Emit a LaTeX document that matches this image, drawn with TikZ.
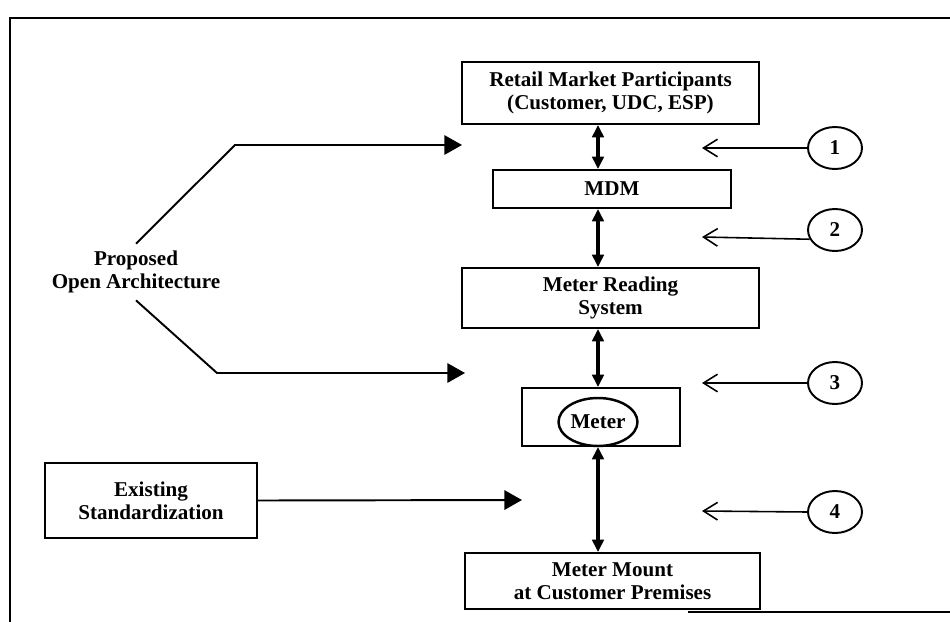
\documentclass[tikz,border=0pt]{standalone}
\usepackage{fontspec}
\setmainfont{Liberation Serif}
\usetikzlibrary{arrows.meta,positioning,shapes.geometric}

\tikzset{
  box/.style={draw, line width=1.1pt, align=center, inner sep=0pt,
    font=\bfseries\fontsize{12}{13}\selectfont},
  link/.style={line width=1.8pt, {Triangle[length=7pt,width=6.5pt]}-{Triangle[length=7pt,width=6.5pt]}},
  feed/.style={line width=1.1pt, -{Triangle[length=10pt,width=11pt]}},
  num/.style={draw, ellipse, line width=1.1pt, inner sep=0pt, minimum width=1.08cm,
    minimum height=0.84cm, font=\bfseries\fontsize{12}{13}\selectfont},
  pointer/.style={line width=0.9pt, -{Straight Barb[length=8pt,width=10pt]}}
}

\begin{document}
\begin{tikzpicture}[x=0.02cm,y=-0.02cm]
  \useasboundingbox (0,0) rectangle (950,622);
  % frame
  \draw[line width=1.3pt] (950,18) -- (10,18) -- (10,622);
  \draw[line width=1.5pt] (688,612) -- (950,612);

  % central column
  \node[box, minimum width=5.94cm, minimum height=1.24cm] (retail) at (610.5,93)
    {Retail Market Participants\\(Customer, UDC, ESP)};
  \node[box, minimum width=4.76cm, minimum height=0.76cm] (mdm) at (612,189) {MDM};
  \node[box, minimum width=5.94cm, minimum height=1.2cm] (mrs) at (610.5,298)
    {Meter Reading\\System};
  \node[box, minimum width=3.16cm, minimum height=1.16cm] (meterbox) at (601,417) {};
  \node[box, ellipse, line width=1.4pt, minimum width=1.58cm, minimum height=0.96cm] (meter) at (598,422) {Meter};
  \node[box, minimum width=5.9cm, minimum height=1.12cm] (mount) at (612.5,581)
    {Meter Mount\\at Customer Premises};

  \draw[link] (retail.south -| meter) -- (mdm.north -| meter);
  \draw[link] (mdm.south -| meter) -- (mrs.north -| meter);
  \draw[link] (mrs.south -| meter) -- (meterbox.north -| meter);
  \draw[link] (meterbox.south -| meter) -- (mount.north -| meter);

  % left side
  \node[align=center, inner sep=4pt, font=\bfseries\fontsize{12}{13}\selectfont] (arch) at (136,272)
    {Proposed\\Open Architecture};
  \node[box, minimum width=4.24cm, minimum height=1.5cm] (std) at (151,500.5)
    {Existing\\Standardization};
  \coordinate (tipA) at (462,145);
  \coordinate (tipB) at (465,373);
  \coordinate (tipC) at (522,500);
  \draw[feed] (arch.north) -- (235,145) -- (tipA);
  \draw[feed] (arch.south) -- (217,373) -- (tipB);
  \draw[feed] (std.east) -- (tipC);

  % interface numbers
  \node[num] (c1) at (835,148) {1};
  \node[num] (c2) at (835,230) {2};
  \node[num] (c3) at (835,383) {3};
  \node[num] (c4) at (835,512) {4};
  \coordinate (p1) at (702,148);
  \coordinate (p2) at (702,237);
  \coordinate (p3) at (702,383);
  \coordinate (p4) at (702,511);
  \draw[pointer] (c1.west) -- (p1);
  \draw[pointer] (c2.200) -- (p2);
  \draw[pointer] (c3.west) -- (p3);
  \draw[pointer] (c4.west) -- (p4);
\end{tikzpicture}
\end{document}
